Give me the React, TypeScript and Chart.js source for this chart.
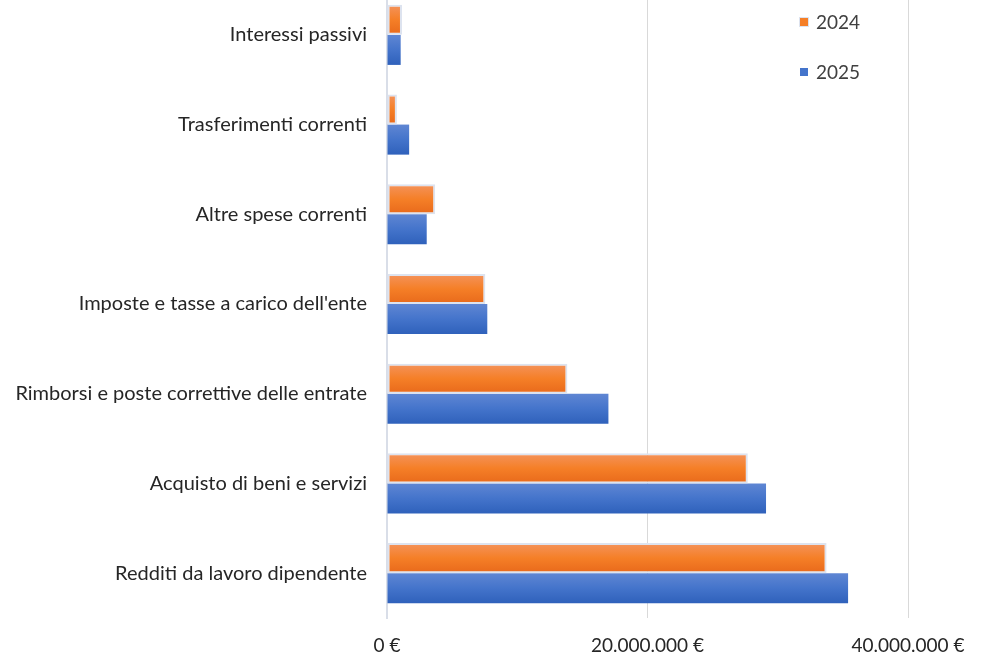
import React, { useEffect, useRef } from "react";
import { Chart, registerables } from "chart.js";

Chart.register(...registerables);

const categories = [
  "Interessi passivi",
  "Trasferimenti correnti",
  "Altre spese correnti",
  "Imposte e tasse a carico dell'ente",
  "Rimborsi e poste correttive delle entrate",
  "Acquisto di beni e servizi",
  "Redditi da lavoro dipendente",
];
const values2024 = [1150000, 760000, 3700000, 7550000, 13850000, 27700000, 33750000];
const values2025 = [1050000, 1700000, 3050000, 7700000, 17000000, 29100000, 35400000];
const seriesLabels = ["2024", "2025"];
const xTicks = [0, 20000000, 40000000];

const FONT = "Lato, 'Open Sans', sans-serif";

function fmtEuro(v: number) {
  const s = Math.round(v).toString().replace(/\B(?=(\d{3})+(?!\d))/g, ".");
  return s + " €";
}

const gradientPlugin = {
  id: "barGradient",
  beforeDatasetsDraw(chart: any) {
    const ctx = chart.ctx;
    const stops = [
      ["#f4935c", "#f57f27", "#e8691b"],
      ["#5f86d3", "#4474cb", "#2f61bb"],
    ];
    chart.data.datasets.forEach((_: any, di: number) => {
      const meta = chart.getDatasetMeta(di);
      meta.data.forEach((el: any) => {
        const top = el.y - el.height / 2;
        const bot = el.y + el.height / 2;
        const g = ctx.createLinearGradient(0, top, 0, bot);
        g.addColorStop(0, stops[di][0]);
        g.addColorStop(0.5, stops[di][1]);
        g.addColorStop(1, stops[di][2]);
        el.options = { ...el.options, backgroundColor: g };
      });
    });
  },
};

export default function App() {
  const ref = useRef<HTMLCanvasElement>(null);
  useEffect(() => {
    if (!ref.current) return;
    const chart = new Chart(ref.current, {
      type: "bar",
      data: {
        labels: categories,
        datasets: [
          {
            label: seriesLabels[0],
            data: values2024,
            backgroundColor: "#f57f27",
            borderColor: "#dde3ef",
            borderWidth: 2,
            borderSkipped: false,
          },
          {
            label: seriesLabels[1],
            data: values2025,
            backgroundColor: "#4474cb",
            borderWidth: 0,
          },
        ],
      },
      options: {
        indexAxis: "y",
        animation: false,
        responsive: false,
        maintainAspectRatio: false,
        layout: { padding: { left: 0, right: 76, top: 0, bottom: 0 } },
        datasets: {
          bar: { categoryPercentage: 0.67, barPercentage: 1 },
        },
        plugins: {
          legend: { display: false },
          tooltip: { enabled: false },
        },
        scales: {
          x: {
            min: 0,
            max: 40000000,
            afterBuildTicks(scale: any) {
              scale.ticks = xTicks.map((v) => ({ value: v }));
            },
            afterFit(scale: any) {
              scale.height = 38;
            },
            ticks: {
              callback: (v: any) => fmtEuro(Number(v)),
              color: "#262626",
              font: { family: FONT, size: 19 },
              padding: 16,
              maxRotation: 0,
            },
            grid: {
              color: "#d9d9d9",
              lineWidth: 1,
              drawTicks: false,
            },
            border: { display: false },
          },
          y: {
            afterFit(scale: any) {
              scale.width = 387;
              scale.paddingTop = 0;
              scale.paddingBottom = 0;
            },
            ticks: {
              color: "#262626",
              font: { family: FONT, size: 20 },
              padding: 20,
            },
            grid: { display: false, drawTicks: false },
            border: { display: true, color: "#d9dee8", width: 2 },
          },
        },
      },
      plugins: [gradientPlugin],
    });
    return () => chart.destroy();
  }, []);

  const legendItem = (label: string, color: string, top: number) => (
    <div
      style={{
        position: "absolute",
        left: 800,
        top,
        display: "flex",
        alignItems: "center",
        fontFamily: FONT,
        fontSize: 19,
        color: "#404040",
        lineHeight: "20px",
      }}
    >
      <span
        style={{
          display: "inline-block",
          width: 8,
          height: 8,
          background: color,
          marginRight: 8,
          outline: label === "2024" ? "1px solid #dde3ef" : "none",
        }}
      />
      <span>{label}</span>
    </div>
  );

  return (
    <div
      style={{
        position: "fixed",
        left: 0,
        top: 0,
        width: 984,
        height: 656,
        overflow: "hidden",
        background: "#fff",
      }}
    >
      <canvas
        ref={ref}
        width={984}
        height={666}
        style={{ position: "absolute", left: 0, top: -10, width: 984, height: 666 }}
      />
      {legendItem(seriesLabels[0], "#f57f27", 12)}
      {legendItem(seriesLabels[1], "#4474cb", 62)}
    </div>
  );
}
